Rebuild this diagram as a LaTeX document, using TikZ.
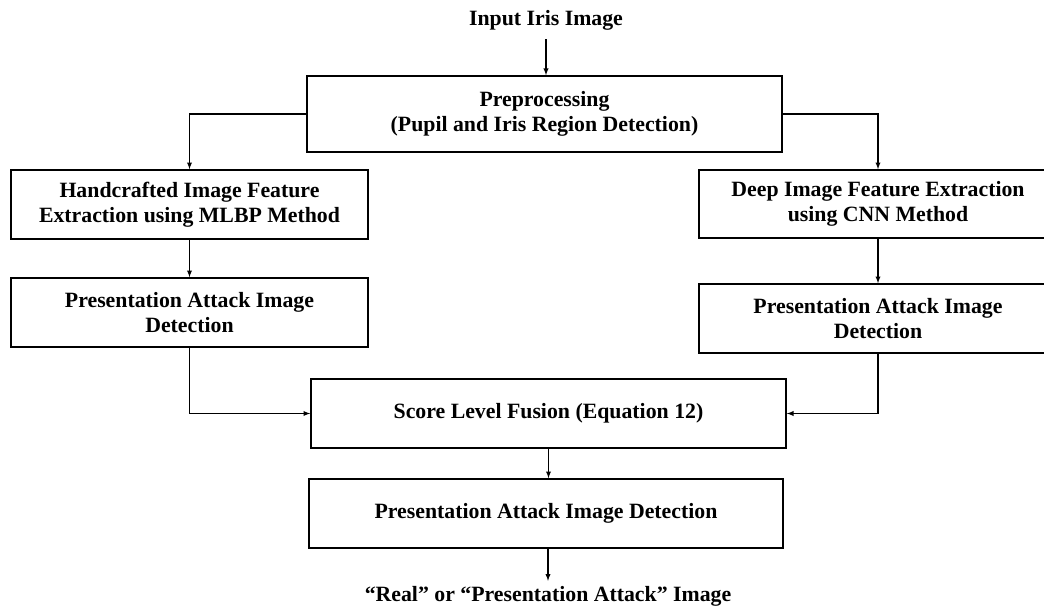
\documentclass[tikz,border=0pt]{standalone}
\usepackage{fontspec}
\setmainfont{Liberation Serif}
\usetikzlibrary{positioning}
\tikzset{
  blk/.style={draw,line width=1.6pt,minimum height=69pt,align=center,inner sep=0pt,
    font=\fontsize{21.8}{25}\selectfont\bfseries},
  lbl/.style={font=\fontsize{21.8}{25}\selectfont\bfseries,inner sep=0pt},
  con/.style={line width=1.3pt,->,>=latex}
}
\begin{document}
\begin{tikzpicture}[x=1pt,y=-1pt]
\useasboundingbox (0,0) rectangle (1044,607);
\clip (0,0) rectangle (1044,607);
\node[lbl] (I) at (546,20) {Input Iris Image};
\node[blk,minimum width=475pt,minimum height=76pt] (P) at (544.5,114) {Preprocessing\\(Pupil and Iris Region Detection)};
\node[blk,minimum width=357pt] (H) at (189.5,204.5) {Handcrafted Image Feature\\Extraction using MLBP Method};
\node[blk,minimum width=358pt,minimum height=68pt] (D) at (878,204) {Deep Image Feature Extraction\\using CNN Method};
\node[blk,minimum width=357pt] (L) at (189.5,312.5) {Presentation Attack Image\\Detection};
\node[blk,minimum width=358pt] (R) at (878,318.5) {Presentation Attack Image\\Detection};
\node[blk,minimum width=475pt] (F) at (548.5,413.5) {Score Level Fusion (Equation 12)};
\node[blk,minimum width=474pt] (A) at (546,513.5) {Presentation Attack Image Detection};
\node[lbl] (O) at (548,596) {``Real'' or ``Presentation Attack'' Image};
% arrows
\draw[con] ([yshift=-9pt]I.south) -- (I.south |- P.north);
\draw[con] (P.west) -| (H.north);
\draw[con] (P.east) -| (D.north);
\draw[con] (H) -- (L);
\draw[con] (D) -- (R);
\draw[con] (L.south) |- (F.west);
\draw[con] (R.south) |- (F.east);
\draw[con] (F.south) -- (F.south |- A.north);
\draw[con] (A.south -| O.north) -- ([yshift=5pt]O.north);
\end{tikzpicture}
\end{document}
